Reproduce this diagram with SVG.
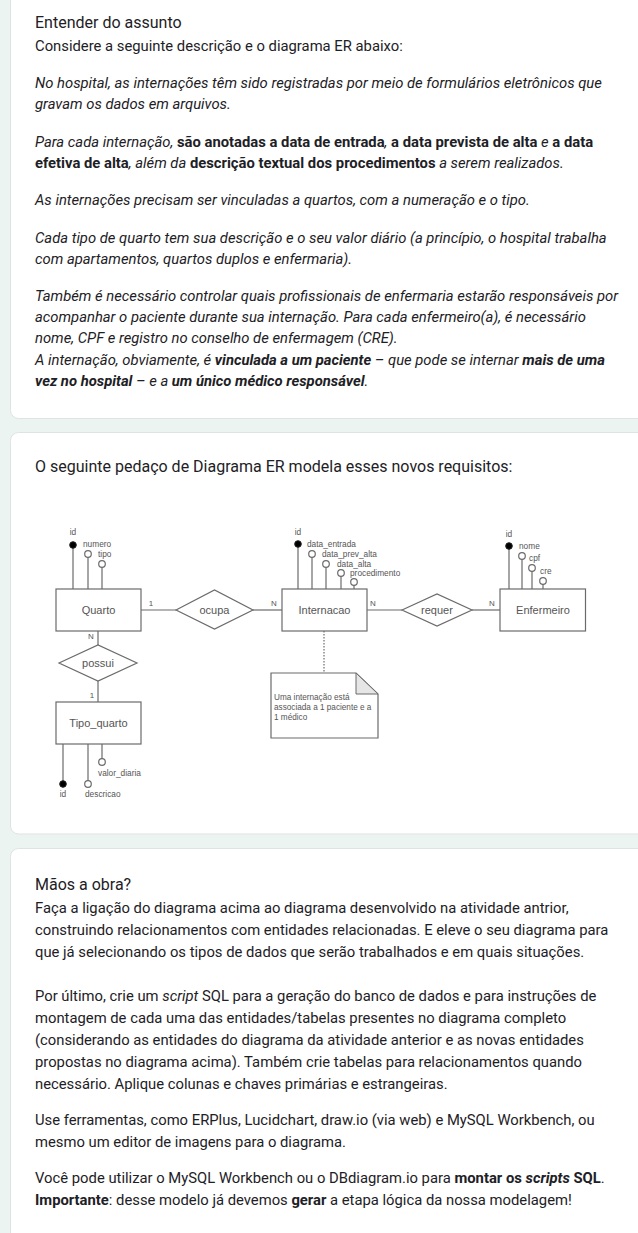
<svg xmlns="http://www.w3.org/2000/svg" width="638" height="1233" viewBox="0 0 638 1233">
<style>
.pg{fill:#ebf4f1}
.card{fill:#fff;stroke:#dfe3e2;stroke-width:1}
.t{font-family:Roboto,"Liberation Sans",sans-serif;font-size:14.8px;fill:#1d2125}
.h{font-size:16px}
.h2{font-size:16px}
.i{font-style:italic}
.b{font-weight:bold}
.n{font-style:normal}
.ln{stroke:#6b6b6b;stroke-width:1.2;fill:none}
.box{fill:#fff;stroke:#6b6b6b;stroke-width:1.2}
.et{font-family:"Liberation Sans",Arial,sans-serif;font-size:11px;fill:#555;text-anchor:middle}
.at{font-family:"Liberation Sans",Arial,sans-serif;font-size:8.3px;fill:#555}
.ac{text-anchor:middle}
.pk{fill:#000;stroke:#222;stroke-width:1}
.oa{fill:#fff;stroke:#6b6b6b;stroke-width:1.2}
.cd{font-family:"Liberation Sans",Arial,sans-serif;font-size:8px;fill:#555;text-anchor:middle}
.nt{font-family:"Liberation Sans",Arial,sans-serif;font-size:8.2px;fill:#555}
</style>
<rect class="pg" x="0" y="0" width="638" height="1233"/>

<!-- Card 1 -->
<g id="card1">
<rect class="card" x="10.5" y="-10" width="640" height="428.5" rx="8"/>
<text class="t h" x="35" y="28">Entender do assunto</text>
<text class="t" x="35" y="51">Considere a seguinte descrição e o diagrama ER abaixo:</text>
<text class="t i" x="35" y="88">No hospital, as internações têm sido registradas por meio de formulários eletrônicos que</text>
<text class="t i" x="35" y="109">gravam os dados em arquivos.</text>
<text class="t i" x="35" y="147">Para cada internação, <tspan class="b n">são anotadas a data de entrada</tspan>, <tspan class="b n">a data prevista de alta</tspan> e <tspan class="b n">a data</tspan></text>
<text class="t i" x="35" y="168"><tspan class="b n">efetiva de alta</tspan>, além da <tspan class="b n">descrição textual dos procedimentos</tspan> a serem realizados.</text>
<text class="t i" x="35" y="205">As internações precisam ser vinculadas a quartos, com a numeração e o tipo.</text>
<text class="t i" x="35" y="243">Cada tipo de quarto tem sua descrição e o seu valor diário (a princípio, o hospital trabalha</text>
<text class="t i" x="35" y="264">com apartamentos, quartos duplos e enfermaria).</text>
<text class="t i" x="35" y="301">Também é necessário controlar quais profissionais de enfermaria estarão responsáveis por</text>
<text class="t i" x="35" y="322">acompanhar o paciente durante sua internação. Para cada enfermeiro(a), é necessário</text>
<text class="t i" x="35" y="343">nome, CPF e registro no conselho de enfermagem (CRE).</text>
<text class="t i" x="35" y="365">A internação, obviamente, é <tspan class="b">vinculada a um paciente</tspan> – que pode se internar <tspan class="b">mais de uma</tspan></text>
<text class="t i" x="35" y="386"><tspan class="b">vez no hospital</tspan> – e a <tspan class="b">um único médico responsável</tspan>.</text>
</g>

<!-- Card 2 -->
<g id="card2">
<rect class="card" x="10.5" y="432.5" width="640" height="401.5" rx="8"/>
<text class="t h2" x="35" y="472">O seguinte pedaço de Diagrama ER modela esses novos requisitos:</text>
</g>

<!-- Connectors -->
<g id="connectors">
<line class="ln" x1="141" y1="610" x2="176" y2="610"/>
<line class="ln" x1="253" y1="610" x2="282" y2="610"/>
<line class="ln" x1="367" y1="610" x2="402" y2="610"/>
<line class="ln" x1="472" y1="610" x2="500" y2="610"/>
<line class="ln" x1="98" y1="631" x2="98" y2="645"/>
<line class="ln" x1="98" y1="681" x2="98" y2="702"/>
<line class="ln" x1="324" y1="631" x2="324" y2="673" stroke-dasharray="1.5,1.5"/>
<text class="cd" x="151" y="606">1</text>
<text class="cd" x="274" y="606">N</text>
<text class="cd" x="373" y="606">N</text>
<text class="cd" x="492" y="606">N</text>
<text class="cd" x="91" y="639">N</text>
<text class="cd" x="92" y="698">1</text>
</g>

<!-- Quarto -->
<g id="quarto">
<line class="ln" x1="73" y1="548" x2="73" y2="589"/>
<line class="ln" x1="88" y1="557" x2="88" y2="589"/>
<line class="ln" x1="102" y1="567" x2="102" y2="589"/>
<circle class="pk" cx="73" cy="545" r="3.3"/>
<circle class="oa" cx="88" cy="554" r="3.3"/>
<circle class="oa" cx="102" cy="564" r="3.3"/>
<text class="at ac" x="73" y="535">id</text>
<text class="at" x="83" y="547">numero</text>
<text class="at" x="98" y="557">tipo</text>
<rect class="box" x="56" y="589" width="85" height="42"/>
<text class="et" x="98.5" y="614">Quarto</text>
</g>

<!-- ocupa -->
<g id="ocupa">
<polygon class="box" points="176,610 214.5,590 253,610 214.5,629"/>
<text class="et" x="214.5" y="614">ocupa</text>
</g>

<!-- Internacao -->
<g id="internacao">
<line class="ln" x1="298" y1="547" x2="298" y2="589"/>
<line class="ln" x1="312" y1="557" x2="312" y2="589"/>
<line class="ln" x1="326" y1="567" x2="326" y2="589"/>
<line class="ln" x1="341" y1="576" x2="341" y2="589"/>
<line class="ln" x1="354" y1="585" x2="354" y2="589"/>
<circle class="pk" cx="298" cy="544" r="3.3"/>
<circle class="oa" cx="312" cy="554" r="3.3"/>
<circle class="oa" cx="326" cy="564" r="3.3"/>
<circle class="oa" cx="341" cy="573" r="3.3"/>
<circle class="oa" cx="354" cy="582" r="3.3"/>
<text class="at ac" x="298" y="535">id</text>
<text class="at" x="307" y="547">data_entrada</text>
<text class="at" x="322" y="557">data_prev_alta</text>
<text class="at" x="337" y="566.5">data_alta</text>
<text class="at" x="350" y="576">procedimento</text>
<rect class="box" x="282" y="589" width="85" height="42"/>
<text class="et" x="324.5" y="614">Internacao</text>
</g>

<!-- requer -->
<g id="requer">
<polygon class="box" points="402,610 437,594 472,610 437,626"/>
<text class="et" x="437" y="614">requer</text>
</g>

<!-- Enfermeiro -->
<g id="enfermeiro">
<line class="ln" x1="509" y1="549" x2="509" y2="589"/>
<line class="ln" x1="522" y1="559" x2="522" y2="589"/>
<line class="ln" x1="532" y1="571" x2="532" y2="589"/>
<line class="ln" x1="543" y1="584" x2="543" y2="589"/>
<circle class="pk" cx="509" cy="546" r="3.3"/>
<circle class="oa" cx="522" cy="556" r="3.3"/>
<circle class="oa" cx="532" cy="568" r="3.3"/>
<circle class="oa" cx="543" cy="581" r="3.3"/>
<text class="at ac" x="509" y="537">id</text>
<text class="at" x="519" y="549">nome</text>
<text class="at" x="529" y="561">cpf</text>
<text class="at" x="540" y="573.5">cre</text>
<rect class="box" x="500" y="589" width="85.5" height="42"/>
<text class="et" x="543" y="614">Enfermeiro</text>
</g>

<!-- possui -->
<g id="possui">
<polygon class="box" points="59,663 98,645 137,663 98,681"/>
<text class="et" x="98" y="667">possui</text>
</g>

<!-- Tipo_quarto -->
<g id="tipo_quarto">
<rect class="box" x="56" y="702" width="85" height="42"/>
<text class="et" x="98.5" y="727">Tipo_quarto</text>
<line class="ln" x1="63" y1="744" x2="63" y2="781"/>
<line class="ln" x1="88" y1="744" x2="88" y2="781"/>
<line class="ln" x1="102" y1="744" x2="102" y2="759"/>
<circle class="pk" cx="63" cy="784" r="3.3"/>
<circle class="oa" cx="88" cy="784" r="3.3"/>
<circle class="oa" cx="102" cy="762" r="3.3"/>
<text class="at ac" x="63" y="797">id</text>
<text class="at" x="85" y="797">descricao</text>
<text class="at" x="98" y="776">valor_diaria</text>
</g>

<!-- Note -->
<g id="note">
<polygon class="box" points="271,673 356,673 378,694 378,738 271,738"/>
<polygon points="356,673 356,694 378,694" fill="#e6e6e6" stroke="#6b6b6b" stroke-width="1"/>
<text class="nt" x="274" y="699.5">Uma internação está</text>
<text class="nt" x="274" y="709.5">associada a 1 paciente e a</text>
<text class="nt" x="274" y="719.5">1 médico</text>
</g>

<!-- Card 3 -->
<g id="card3">
<rect class="card" x="10.5" y="848.5" width="640" height="400" rx="8"/>
<text class="t h" x="35" y="890">Mãos a obra?</text>
<text class="t" x="35" y="913">Faça a ligação do diagrama acima ao diagrama desenvolvido na atividade antrior,</text>
<text class="t" x="35" y="935">construindo relacionamentos com entidades relacionadas. E eleve o seu diagrama para</text>
<text class="t" x="35" y="957">que já selecionando os tipos de dados que serão trabalhados e em quais situações.</text>
<text class="t" x="35" y="1001">Por último, crie um <tspan class="i">script</tspan> SQL para a geração do banco de dados e para instruções de</text>
<text class="t" x="35" y="1023">montagem de cada uma das entidades/tabelas presentes no diagrama completo</text>
<text class="t" x="35" y="1045">(considerando as entidades do diagrama da atividade anterior e as novas entidades</text>
<text class="t" x="35" y="1067">propostas no diagrama acima). Também crie tabelas para relacionamentos quando</text>
<text class="t" x="35" y="1089">necessário. Aplique colunas e chaves primárias e estrangeiras.</text>
<text class="t" x="35" y="1125">Use ferramentas, como ERPlus, Lucidchart, draw.io (via web) e MySQL Workbench, ou</text>
<text class="t" x="35" y="1147">mesmo um editor de imagens para o diagrama.</text>
<text class="t" x="35" y="1183">Você pode utilizar o MySQL Workbench ou o DBdiagram.io para <tspan class="b">montar os <tspan class="i">scripts</tspan> SQL</tspan>.</text>
<text class="t" x="35" y="1205"><tspan class="b">Importante</tspan>: desse modelo já devemos <tspan class="b">gerar</tspan> a etapa lógica da nossa modelagem!</text>
</g>
</svg>
